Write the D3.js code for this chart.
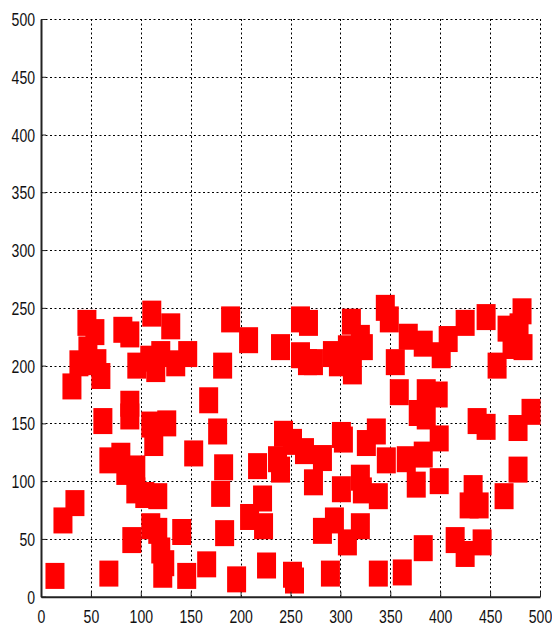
<!DOCTYPE html>
<html>
<head>
<meta charset="utf-8">
<script src="https://cdn.jsdelivr.net/npm/d3@7/dist/d3.min.js"></script>
<style>
  html, body { margin: 0; padding: 0; background: #fff; }
  #chart { width: 552px; height: 627px; }
  .tick-label { font-family: "Liberation Sans", Arial, sans-serif; font-size: 18px; fill: #111; }
</style>
</head>
<body>
<div id="chart"></div>
<script>
// Point positions (data units)
const xValues = [
  46, 54, 82, 89, 111, 130, 31, 38, 47, 56, 60, 96, 109, 115, 120, 135, 147, 62, 89, 89,
  110, 126, 113, 68, 80, 85, 95, 95, 104, 117, 22, 34, 14, 68, 91, 110, 117, 120, 124, 122,
  141, 146, 153, 177, 183, 180, 184, 166, 196, 217, 209, 222, 223, 226, 237, 240, 252, 254, 282, 273,
  282, 294, 307, 320, 290, 301, 320, 338, 264, 346, 366, 383, 376, 399, 338, 322, 433, 429, 439, 464,
  478, 415, 425, 442, 383, 362, 190, 208, 240, 182, 168, 243, 252, 301, 303, 326, 336, 260, 268, 260,
  267, 273, 292, 298, 307, 311, 312, 320, 323, 345, 349, 368, 383, 355, 401, 408, 425, 446, 482, 467,
  479, 472, 483, 457, 359, 386, 398, 378, 386, 399, 437, 446, 491, 478
];
const yValues = [
  237, 229, 231, 227, 245, 234, 182, 202, 214, 203, 191, 200, 206, 197, 210, 202, 210, 152, 167, 156,
  149, 150, 133, 118, 122, 108, 111, 92, 88, 87, 66, 81, 18, 20, 49, 61, 57, 40, 29, 19,
  56, 18, 124, 143, 112, 89, 55, 28, 15, 113, 69, 85, 61, 27, 119, 110, 19, 14, 120, 99,
  57, 66, 47, 61, 20, 93, 103, 20, 126, 118, 119, 123, 97, 100, 87, 92, 94, 79, 79, 87,
  110, 49, 37, 47, 42, 21, 240, 222, 216, 200, 170, 141, 134, 140, 136, 133, 143, 240, 237, 209,
  203, 203, 210, 202, 215, 238, 195, 224, 216, 250, 240, 225, 219, 203, 209, 223, 237, 242, 247, 232,
  234, 217, 216, 200, 177, 177, 175, 159, 156, 137, 152, 147, 160, 146
];
const tickValues = [0, 50, 100, 150, 200, 250, 300, 350, 400, 450, 500];

const width = 552;
const height = 627;
const plotLeft = 41, plotRight = 540, plotTop = 19, plotBottom = 596.7;
const markW = 19, markH = 26;
const squeeze = 0.78; // reference text is horizontally compressed

const points = xValues.map((x, i) => ({ x, y: yValues[i] }));

const svg = d3.select('#chart').append('svg')
  .attr('width', width)
  .attr('height', height);

const xScale = d3.scaleLinear().domain([0, 500]).range([plotLeft, plotRight]);
const yScale = d3.scaleLinear().domain([0, 500]).range([plotBottom, plotTop]);

// Dashed grid
const grid = svg.append('g').attr('class', 'grid')
  .attr('stroke', '#000').attr('stroke-width', 1).attr('stroke-dasharray', '2,2.5');
grid.selectAll('.gx').data(tickValues.slice(1)).enter().append('line')
  .attr('x1', d => Math.round(xScale(d)) + 0.5).attr('x2', d => Math.round(xScale(d)) + 0.5)
  .attr('y1', plotTop).attr('y2', plotBottom);
grid.selectAll('.gy').data(tickValues.slice(1)).enter().append('line')
  .attr('x1', plotLeft).attr('x2', plotRight)
  .attr('y1', d => Math.round(yScale(d)) + 0.5).attr('y2', d => Math.round(yScale(d)) + 0.5);

// Markers
svg.append('g').selectAll('rect')
  .data(points)
  .enter()
  .append('rect')
  .attr('x', d => xScale(d.x) - markW / 2)
  .attr('y', d => yScale(d.y) - markH / 2)
  .attr('width', markW)
  .attr('height', markH)
  .attr('fill', '#ff0000');

// X axis
const xAxis = svg.append('g')
  .attr('transform', `translate(0,${plotBottom})`)
  .call(d3.axisBottom(xScale).tickValues(tickValues).tickSize(-5).tickPadding(0).tickSizeOuter(0));
xAxis.select('.domain').attr('stroke', '#222').attr('stroke-width', 2);
xAxis.selectAll('.tick line').attr('stroke', '#222');
xAxis.selectAll('.tick text')
  .attr('class', 'tick-label')
  .attr('y', 26)
  .attr('dy', 0)
  .attr('transform', `scale(${squeeze},1)`);

// Y axis
const yAxis = svg.append('g')
  .attr('transform', `translate(${plotLeft},0)`)
  .call(d3.axisLeft(yScale).tickValues(tickValues).tickSize(-5).tickPadding(0).tickSizeOuter(0));
yAxis.select('.domain').attr('stroke', '#222').attr('stroke-width', 2);
yAxis.selectAll('.tick line').attr('stroke', '#222');
yAxis.selectAll('.tick text')
  .attr('class', 'tick-label')
  .attr('x', -6 / squeeze)
  .attr('dy', '0.36em')
  .attr('transform', `scale(${squeeze},1)`);

// d3 axis sets font on the group; let the class win
svg.selectAll('g').filter(function () { return this.getAttribute('font-size'); })
  .attr('font-size', null).attr('font-family', null);
svg.selectAll('.tick text').attr('fill', '#111');
</script>
</body>
</html>
